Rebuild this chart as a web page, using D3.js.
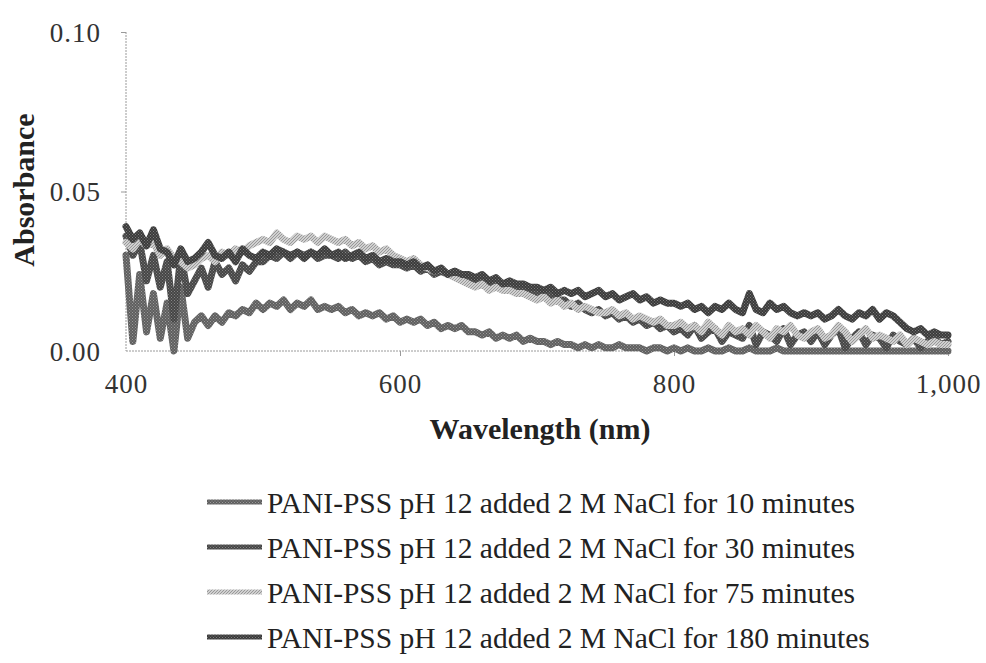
<!DOCTYPE html>
<html>
<head>
<meta charset="utf-8">
<script src="https://cdn.jsdelivr.net/npm/d3@7"></script>
<style>
  html, body { margin: 0; padding: 0; background: #fff; }
  svg { display: block; }
</style>
</head>
<body>
<svg id="chart" width="986" height="663"></svg>
<script>
// ---------- DATA ----------
const wlStart = 400, wlStep = 5; // wavelengths 400..1000 nm, every 5 nm
const seriesNames = [
  "PANI-PSS pH 12 added 2 M NaCl for 10 minutes",
  "PANI-PSS pH 12 added 2 M NaCl for 30 minutes",
  "PANI-PSS pH 12 added 2 M NaCl for 75 minutes",
  "PANI-PSS pH 12 added 2 M NaCl for 180 minutes"
];
const abs10 = [
  .030,.003,.024,.006,.018,.004,.015,.000,.020,.004,
  .009,.011,.008,.011,.009,.012,.011,.013,.012,.015,
  .013,.015,.014,.016,.013,.015,.014,.016,.013,.014,
  .013,.014,.012,.013,.011,.012,.011,.012,.010,.011,
  .009,.010,.009,.010,.008,.009,.007,.008,.007,.008,
  .006,.006,.005,.006,.004,.005,.004,.005,.003,.004,
  .003,.003,.002,.003,.002,.002,.001,.002,.001,.002,
  .001,.001,.002,.001,.001,.001,.000,.001,.001,.000,
  .001,.000,.001,.000,.000,.001,.000,.000,.001,.000,
  .000,.001,.000,.000,.000,.001,.000,.000,.000,.000,
  .000,.000,.000,.000,.000,.000,.000,.000,.000,.000,
  .000,.000,.000,.000,.000,.000,.000,.000,.000,.000,
  .000
];
const abs30 = [
  .036,.030,.034,.022,.030,.020,.028,.010,.030,.018,
  .022,.026,.020,.028,.024,.026,.022,.027,.025,.028,
  .028,.030,.029,.031,.029,.031,.030,.031,.029,.030,
  .030,.029,.031,.029,.030,.028,.029,.027,.028,.027,
  .027,.026,.027,.025,.026,.024,.025,.024,.025,.023,
  .023,.022,.023,.021,.022,.020,.021,.019,.020,.019,
  .018,.017,.018,.016,.016,.014,.015,.013,.012,.013,
  .011,.012,.010,.011,.009,.010,.008,.009,.007,.008,
  .006,.007,.005,.008,.004,.006,.007,.003,.006,.005,
  .004,.008,.002,.006,.005,.003,.007,.002,.005,.006,
  .003,.006,.002,.005,.007,.001,.004,.006,.002,.005,
  .004,.001,.005,.003,.002,.004,.001,.003,.004,.002,
  .003
];
const abs75 = [
  .034,.032,.035,.033,.034,.030,.032,.029,.028,.026,
  .027,.029,.030,.028,.031,.030,.032,.031,.033,.034,
  .035,.034,.037,.035,.034,.036,.035,.036,.034,.036,
  .035,.034,.035,.033,.034,.032,.033,.031,.032,.030,
  .029,.028,.029,.027,.026,.025,.026,.024,.023,.022,
  .021,.020,.021,.019,.020,.019,.019,.018,.018,.017,
  .016,.017,.015,.016,.014,.015,.013,.014,.013,.012,
  .012,.013,.011,.012,.010,.011,.010,.009,.010,.008,
  .008,.009,.007,.008,.006,.009,.007,.005,.008,.006,
  .007,.005,.008,.006,.004,.007,.006,.008,.005,.004,
  .006,.007,.004,.005,.008,.006,.003,.005,.007,.004,
  .005,.004,.003,.005,.002,.004,.003,.002,.003,.002,
  .002
];
const abs180 = [
  .039,.035,.037,.033,.038,.032,.031,.027,.032,.028,
  .029,.031,.034,.030,.029,.031,.028,.032,.030,.029,
  .031,.030,.032,.031,.030,.031,.029,.031,.030,.032,
  .030,.031,.029,.030,.031,.029,.030,.028,.029,.028,
  .028,.027,.028,.026,.027,.025,.026,.024,.025,.024,
  .024,.023,.024,.022,.023,.021,.022,.021,.021,.020,
  .020,.019,.020,.018,.019,.018,.019,.017,.018,.019,
  .017,.018,.016,.017,.018,.016,.017,.015,.016,.015,
  .015,.014,.015,.013,.014,.012,.014,.013,.015,.013,
  .012,.018,.013,.012,.015,.013,.014,.012,.011,.012,
  .011,.012,.010,.011,.013,.011,.010,.012,.011,.013,
  .010,.012,.011,.009,.007,.006,.007,.005,.006,.005,
  .005
];
const seriesValues = [abs10, abs30, abs75, abs180];
const xTicks = [400, 600, 800, 1000];
const yTicks = [0, 0.05, 0.10];

// ---------- LAYOUT ----------
const svg = d3.select("#chart");
const serif = "'Liberation Serif', 'Times New Roman', serif";
const x = d3.scaleLinear().domain([400, 1000]).range([126, 948]);
const y = d3.scaleLinear().domain([0, 0.10]).range([351, 32]);

// textured paints
const defs = svg.append("defs");
function checker(id, dark, light) {
  const p = defs.append("pattern").attr("id", id).attr("patternUnits", "userSpaceOnUse")
    .attr("width", 3).attr("height", 3);
  p.append("rect").attr("width", 3).attr("height", 3).attr("fill", dark);
  p.append("rect").attr("x", 0).attr("y", 0).attr("width", 1).attr("height", 1).attr("fill", light);
  p.append("rect").attr("x", 1.5).attr("y", 1.5).attr("width", 1).attr("height", 1).attr("fill", light);
}
checker("p10", "#5e5e5e", "#9a9a9a");
checker("p30", "#454545", "#858585");
checker("p180", "#3a3a3a", "#7c7c7c");
(function () {
  const p = defs.append("pattern").attr("id", "p75").attr("patternUnits", "userSpaceOnUse")
    .attr("width", 3).attr("height", 3);
  p.append("rect").attr("width", 3).attr("height", 3).attr("fill", "#d0d0d0");
  p.append("path").attr("d", "M0,3 L3,0 M-1,1 L1,-1 M2,4 L4,2").attr("stroke", "#999").attr("stroke-width", 1);
})();
const paints = ["url(#p10)", "url(#p30)", "url(#p75)", "url(#p180)"];

// axes
const yAxis = d3.axisLeft(y).tickValues(yTicks).tickFormat(d3.format(".2f")).tickSize(5).tickPadding(0);
const gy = svg.append("g").attr("transform", "translate(126,0)").call(yAxis);
gy.select(".domain").attr("stroke", "#9a9a9a").attr("stroke-dasharray", "2,1").attr("d", `M0,${y(0.10)}V${y(0)}`);
gy.selectAll(".tick line").attr("stroke", "#9a9a9a");
gy.selectAll(".tick").filter(d => d === 0).select("line").remove();
gy.selectAll(".tick text")
  .attr("x", -25).attr("dy", "0.34em")
  .attr("font-family", serif).attr("font-size", 27).attr("letter-spacing", 1)
  .attr("fill", "#333").attr("text-anchor", "end");

const xAxis = d3.axisBottom(x).tickValues(xTicks).tickFormat(d3.format(",")).tickSize(5).tickPadding(0);
const gx = svg.append("g").attr("transform", "translate(0,351)").call(xAxis);
gx.select(".domain").attr("stroke", "#9a9a9a").attr("stroke-dasharray", "2,1").attr("d", `M${x(400)},0H${x(1000)}`);
gx.selectAll(".tick line").attr("stroke", "#9a9a9a");
gx.selectAll(".tick").filter(d => d === 400).select("line").remove();
gx.selectAll(".tick text")
  .attr("y", 42).attr("dy", 0)
  .attr("font-family", serif).attr("font-size", 27).attr("letter-spacing", 1)
  .attr("fill", "#333");

// axis titles
svg.append("text")
  .attr("transform", "translate(34,190) rotate(-90)")
  .attr("text-anchor", "middle")
  .attr("font-family", serif).attr("font-weight", "bold").attr("font-size", 30)
  .attr("fill", "#222")
  .text("Absorbance");
svg.append("text")
  .attr("x", 540).attr("y", 439)
  .attr("text-anchor", "middle")
  .attr("font-family", serif).attr("font-weight", "bold").attr("font-size", 30)
  .attr("fill", "#222")
  .text("Wavelength (nm)");

// series lines
const line = d3.line()
  .x((d, i) => x(wlStart + i * wlStep))
  .y(d => y(d));
svg.append("g").selectAll("path")
  .data(seriesValues)
  .join("path")
  .attr("d", d => line(d))
  .attr("fill", "none")
  .attr("stroke", (d, i) => paints[i])
  .attr("stroke-width", 7)
  .attr("stroke-linejoin", "round")
  .attr("stroke-linecap", "round");

// legend
const legendRows = [502, 547, 592, 637];
const lg = svg.append("g").selectAll("g")
  .data(seriesNames)
  .join("g")
  .attr("transform", (d, i) => `translate(0,${legendRows[i]})`);
lg.append("line")
  .attr("x1", 207).attr("x2", 262).attr("y1", 0).attr("y2", 0)
  .attr("stroke", (d, i) => paints[i]).attr("stroke-width", 5);
lg.append("text")
  .attr("x", 267).attr("y", 11)
  .attr("font-family", serif).attr("font-size", 29.5)
  .attr("fill", "#222")
  .text(d => d);
</script>
</body>
</html>
